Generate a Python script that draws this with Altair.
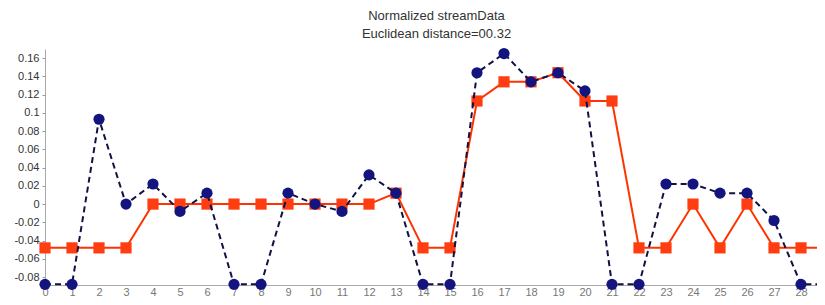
import altair as alt
import pandas as pd

idx = list(range(30))
stream = [-0.088, -0.088, 0.093, 0.0, 0.022, -0.008, 0.012, -0.088, -0.088, 0.012,
          0.0, -0.008, 0.032, 0.012, -0.088, -0.088, 0.144, 0.165, 0.134, 0.144,
          0.124, -0.088, -0.088, 0.022, 0.022, 0.012, 0.012, -0.018, -0.088, -0.088]
pattern = [-0.048, -0.048, -0.048, -0.048, 0.0, 0.0, 0.0, 0.0, 0.0, 0.0,
           0.0, 0.0, 0.0, 0.012, -0.048, -0.048, 0.113, 0.134, 0.134, 0.144,
           0.113, 0.113, -0.048, -0.048, 0.0, -0.048, 0.0, -0.048, -0.048, -0.048]
y_ticks = [-0.08, -0.06, -0.04, -0.02, 0.0, 0.02, 0.04, 0.06, 0.08, 0.1, 0.12, 0.14, 0.16]
x_ticks = idx

df = pd.DataFrame({
    "i": idx + idx,
    "v": pattern + stream,
    "s": ["pattern"] * len(idx) + ["stream"] * len(idx),
})

FONT = "Liberation Sans"
xs = alt.Scale(domain=[0, 29], nice=False, zero=False)
ys = alt.Scale(domain=[-0.0887, 0.17], nice=False, zero=False)

xenc = alt.X("i:Q", scale=xs, axis=alt.Axis(values=x_ticks, title=None, grid=False, ticks=False,
             labelFont=FONT, labelFontSize=11, labelColor="#777", labelPadding=1,
             domainColor="#aaa", labelFlush=False, labelOverlap=False))
yenc = alt.Y("v:Q", scale=ys, axis=alt.Axis(values=y_ticks, title=None, grid=False,
             labelExpr="'' + round(datum.value*100)/100", labelFont=FONT, labelFontSize=11,
             labelColor="#333", tickSize=3, tickColor="#999", domainColor="#aaa",
             labelPadding=3, labelOverlap=False))

base = alt.Chart(df).encode(x=xenc, y=yenc)
pat = base.transform_filter(alt.datum.s == "pattern")
stm = base.transform_filter(alt.datum.s == "stream")

orange_line = pat.mark_line(color="#ff3300", strokeWidth=2)
orange_pts = pat.mark_point(shape="square", filled=True, size=125, color="#ff3d10", opacity=1)
blue_line = stm.mark_line(color="#111144", strokeWidth=2, strokeDash=[6, 4])
blue_pts = stm.mark_point(shape="circle", filled=True, size=125, color="#14147f", opacity=1)

chart = alt.layer(orange_line, orange_pts, blue_line, blue_pts).properties(
    width=783, height=236,
    title=alt.TitleParams(text="Normalized streamData", subtitle="Euclidean distance=00.32",
                          anchor="middle", font=FONT, fontSize=13, fontWeight="normal",
                          color="#333", subtitleFont=FONT, subtitleFontSize=13,
                          subtitleColor="#333", offset=7, subtitlePadding=5),
    autosize=alt.AutoSizeParams(type="none"),
    padding={"left": 37, "top": 41, "right": -11, "bottom": 12},
).configure_view(stroke=None)

chart.save("out.html", embed_options={"renderer": "svg", "actions": False})
